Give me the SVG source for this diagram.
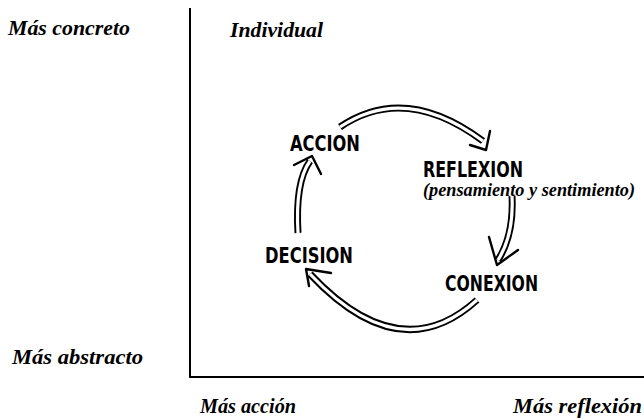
<svg xmlns="http://www.w3.org/2000/svg" width="644" height="420" viewBox="0 0 644 420">
  <style>
    .axis { fill: none; stroke: #000; stroke-width: 2; }
    .script { font-family: "Liberation Serif", "DejaVu Serif", serif; font-style: italic; font-weight: bold; fill: #000; }
    .corner { font-size: 22px; }
    .caps { font-family: "DejaVu Sans Condensed", "Liberation Sans", sans-serif; font-weight: bold; font-size: 22px; fill: #000; }
    .sub { font-size: 18px; }
    .band-outer { fill: none; stroke: #000; stroke-width: 7; stroke-linecap: butt; }
    .band-inner { fill: none; stroke: #fff; stroke-width: 3.2; stroke-linecap: butt; }
    .head { fill: none; stroke: #000; stroke-width: 2.4; stroke-linecap: round; stroke-linejoin: round; }
  </style>

  <!-- axes -->
  <g id="axes">
    <path class="axis" d="M190,8 V377 H644"/>
  </g>

  <!-- axis labels -->
  <g id="label-concreto"><text class="script corner" x="8" y="35" textLength="122" lengthAdjust="spacingAndGlyphs">Más concreto</text></g>
  <g id="label-abstracto"><text class="script corner" x="12" y="364" textLength="131" lengthAdjust="spacingAndGlyphs">Más abstracto</text></g>
  <g id="label-accion"><text class="script corner" x="200" y="413" textLength="96" lengthAdjust="spacingAndGlyphs">Más acción</text></g>
  <g id="label-reflexion"><text class="script corner" x="513" y="413" textLength="129" lengthAdjust="spacingAndGlyphs">Más reflexión</text></g>
  <g id="label-individual"><text class="script corner" x="230" y="37" textLength="93" lengthAdjust="spacingAndGlyphs">Individual</text></g>

  <!-- cycle stages -->
  <g id="node-accion"><text class="caps" x="290" y="151" textLength="70" lengthAdjust="spacingAndGlyphs">ACCION</text></g>
  <g id="node-reflexion">
    <text class="caps" x="423" y="177" textLength="100" lengthAdjust="spacingAndGlyphs">REFLEXION</text>
    <text class="script sub" x="423" y="196" textLength="212" lengthAdjust="spacingAndGlyphs">(pensamiento y sentimiento)</text>
  </g>
  <g id="node-conexion"><text class="caps" x="445" y="291" textLength="93" lengthAdjust="spacingAndGlyphs">CONEXION</text></g>
  <g id="node-decision"><text class="caps" x="265" y="263" textLength="88" lengthAdjust="spacingAndGlyphs">DECISION</text></g>

  <!-- hollow double-line arrows between stages -->
  <g id="connectors">
    <path class="band-outer" d="M340,127 Q405,83 483,141"/>
    <path class="band-inner" d="M340,127 Q405,83 483,141"/>
    <polyline class="head" points="470,145 486,150 490,131"/>

    <path class="band-outer" d="M512,196 Q514,235 498,260"/>
    <path class="band-inner" d="M512,196 Q514,235 498,260"/>
    <polyline class="head" points="489,237 497,265 518,250"/>

    <path class="band-outer" d="M477,300 Q400,370 310,274"/>
    <path class="band-inner" d="M477,300 Q400,370 310,274"/>
    <polyline class="head" points="331,273 306,269 309,286"/>

    <path class="band-outer" d="M298,233 Q295,182 310,161"/>
    <path class="band-inner" d="M298,233 Q295,182 310,161"/>
    <polyline class="head" points="294,165 312,156 321,174"/>
  </g>
</svg>
